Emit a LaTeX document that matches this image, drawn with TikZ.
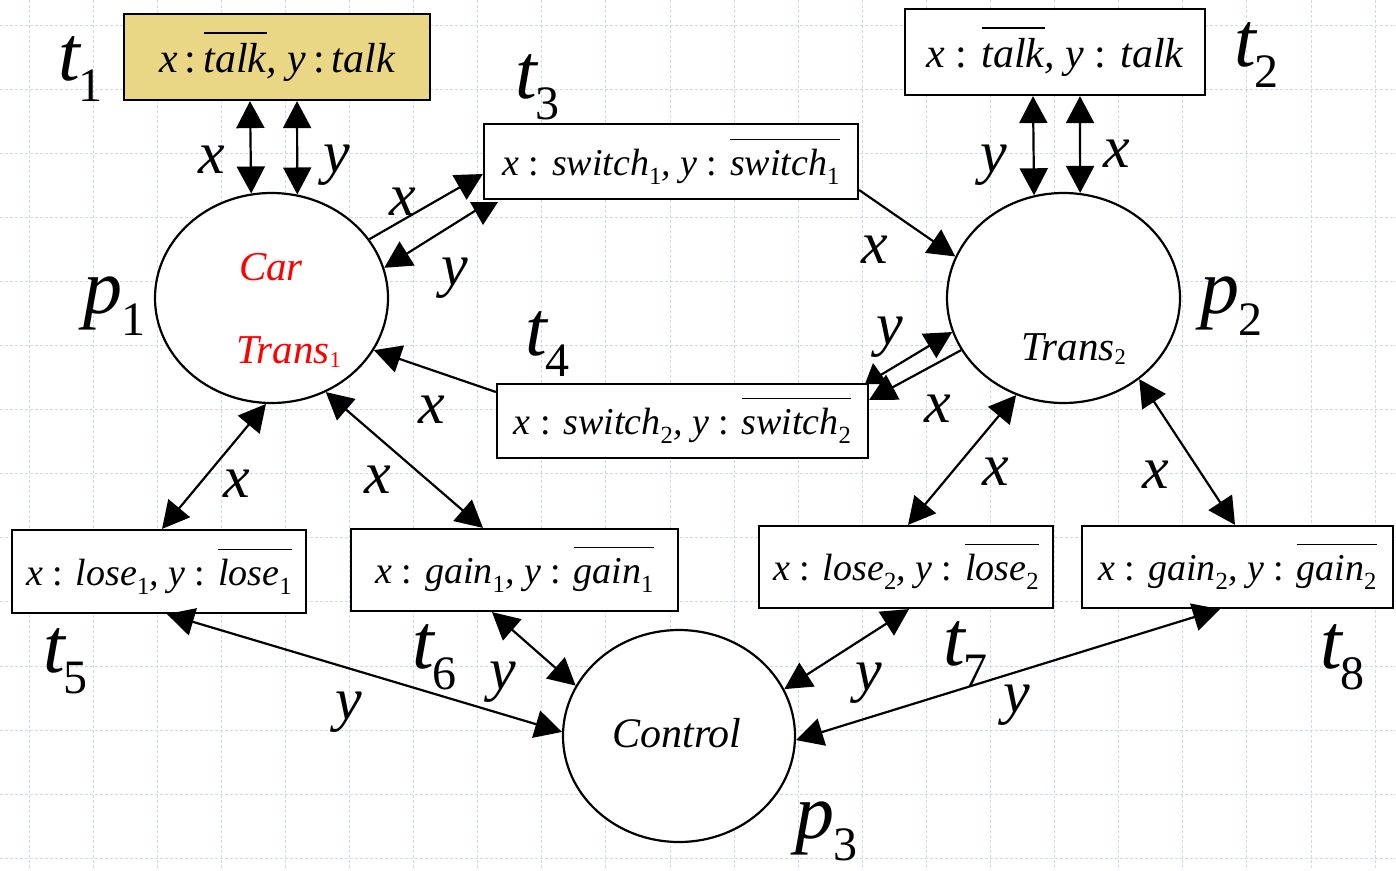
\documentclass[tikz,border=0pt]{standalone}
\usepackage{fontspec}
\setmainfont{Liberation Serif}
\usepackage{graphicx}
\usetikzlibrary{arrows.meta,shapes.geometric}
\definecolor{gridc}{RGB}{205,218,245}
\definecolor{khaki}{RGB}{234,215,133}
\newcommand\ovl[1]{\setbox0\hbox{#1}\rlap{\raisebox{0.93em}{\rule{\wd0}{0.035em}}}\box0}
\newcommand\bsub[1]{\raisebox{-0.24em}{\scalebox{0.65}{\upshape #1}}}
\newcommand\tsub[1]{\raisebox{-0.12em}{\scalebox{0.55}{\upshape #1}}}
\newcommand\cln{{\upshape:}}
\newcommand\lbl[2]{{\fontsize{78}{78}\selectfont\itshape #1}\kern-1pt\raisebox{-21pt}{\fontsize{48}{48}\selectfont #2}}
\newcommand\plbl[2]{{\fontsize{78}{78}\selectfont\itshape #1}\kern-1pt\raisebox{-22pt}{\fontsize{48}{48}\selectfont #2}}
\begin{document}
\begin{tikzpicture}[x=1pt,y=-1pt,
  gridl/.style={draw=gridc,line width=1pt,dash pattern=on 3pt off 2pt},
  place/.style={ellipse,draw,line width=2.2pt,fill=white,inner sep=0pt,minimum width=233pt,minimum height=210pt},
  trans/.style={rectangle,draw,line width=2.2pt,fill=white,inner sep=0pt,font=\fontsize{38}{40}\selectfont\itshape},
  arc/.style={line width=2.2pt,-{Triangle[length=27pt,width=28pt]}},
  dbl/.style={line width=2.2pt,{Triangle[length=27pt,width=28pt]}-{Triangle[length=27pt,width=28pt]}},
  alab/.style={font=\fontsize{60}{60}\selectfont\itshape,anchor=base,inner sep=0pt},
  tlab/.style={anchor=base west,inner sep=0pt},
  inlab/.style={anchor=base,inner sep=0pt,font=\fontsize{41}{41}\selectfont\itshape}]
\useasboundingbox (0,0) rectangle (1396,870);
\fill[white] (0,0) rectangle (1396,870);
\foreach \i in {0,...,21} \draw[gridl] ({29+64.1*\i},0) -- ({29+64.1*\i},870);
\foreach \j in {0,...,13} \draw[gridl] (0,{25+64.1*\j}) -- (1396,{25+64.1*\j});

% places
\node[place] (p1) at (271.5,298) {};
\node[place] (p2) at (1063.5,298) {};
\node[place,minimum width=232pt,minimum height=212pt] (p3) at (679,736) {};
\node[inlab,red] (car) at (271,280) {Car};
\node[inlab,red,anchor=base west] (tr1) at (236,363) {Trans\tsub{1}};
\node[inlab,anchor=base west] (tr2) at (1021,360) {Trans\tsub{2}};
\node[inlab,font=\fontsize{42}{42}\selectfont\itshape] (ctl) at (677,747) {Control};

% transitions
\node[trans,fill=khaki,minimum width=306pt,minimum height=86pt,font=\fontsize{42}{44}\selectfont\itshape] (t1) at (277,57)
  {x\,\cln\,\ovl{talk}, y\,\cln\,talk};
\node[trans,minimum width=300pt,minimum height=86pt,font=\fontsize{42}{44}\selectfont\itshape] (t2) at (1055,52)
  {x \cln{} \ovl{talk} , y \cln{} talk};
\node[trans,minimum width=374pt,minimum height=75pt] (t3) at (671,161.5)
  {x \cln{} switch\bsub{1}, y \cln{} \ovl{switch\bsub{1}}};
\node[trans,minimum width=371pt,minimum height=74pt] (t4) at (682.5,421)
  {x \cln{} switch\bsub{2}, y \cln{} \ovl{switch\bsub{2}}};
\node[trans,minimum width=294pt,minimum height=83pt] (t5) at (159,571.5)
  {x \cln{} lose\bsub{1}, y \cln{} \ovl{lose\bsub{1}}};
\node[trans,minimum width=327pt,minimum height=82pt] (t6) at (514.5,570)
  {x \cln{} gain\bsub{1}, y \cln{} \ovl{gain\bsub{1}}};
\node[trans,minimum width=294pt,minimum height=82pt] (t7) at (906,567)
  {x \cln{} lose\bsub{2}, y \cln{} \ovl{lose\bsub{2}}};
\node[trans,minimum width=311pt,minimum height=82pt] (t8) at (1237.5,567)
  {x \cln{} gain\bsub{2}, y \cln{} \ovl{gain\bsub{2}}};

% name labels
\node[tlab] (lt1) at (58,80) {\lbl{t}{1}};
\node[tlab] (lt2) at (1234,66) {\lbl{t}{2}};
\node[tlab] (lt3) at (515,98) {\lbl{t}{3}};
\node[tlab] (lt4) at (525,355) {\lbl{t}{4}};
\node[tlab] (lt5) at (43,672) {\lbl{t}{5}};
\node[tlab] (lt6) at (412,668) {\lbl{t}{6}};
\node[tlab] (lt7) at (943,665) {\lbl{t}{7}};
\node[tlab] (lt8) at (1320,668) {\lbl{t}{8}};
\node[tlab] (lp1) at (83,313) {\plbl{p}{1}};
\node[tlab] (lp2) at (1200,313) {\plbl{p}{2}};
\node[tlab] (lp3) at (795,838) {\plbl{p}{3}};

% connectors
\draw[dbl] ([xshift=-27pt]t1.south) -- (p1.101.8);
\draw[dbl] ([xshift=20pt]t1.south) -- (p1.76);
\draw[arc] (p1.31) -- ([yshift=-12.5pt]t3.west);
\coordinate (t3y) at (478,209);
\draw[arc] (t3y) -- (p1.15.1);
\fill (470,202) -- (498,202) -- (483,225) -- cycle;
\draw[arc] ([yshift=-28.5pt]t3.east) -- (p2.159.8);
\draw[dbl] ([xshift=-22pt]t2.south) -- (p2.106.8);
\draw[dbl] ([xshift=25pt]t2.south) -- (p2.81);
\draw[arc] ([yshift=29pt]t4.west) -- (p1.-27.4);
\coordinate (t4y) at (879,376);
\draw[arc] (t4y) -- (p2.197);
\fill (873,363) -- (865,384) -- (888,384) -- cycle;
\draw[arc] (p2.207.6) -- ([yshift=21pt]t4.east);
\draw[dbl] ([xshift=3pt]t5.north) -- (p1.-93.5);
\draw[dbl] ([xshift=-31.5pt]t6.north) -- (p1.-60.6);
\draw[dbl] ([xshift=2pt]t7.north) -- (p2.-116.6);
\draw[dbl] ([xshift=-2.5pt]t8.north) -- (p2.-47);
\draw[dbl] ([xshift=8pt]t5.south) -- (p3.178);
\draw[dbl] ([xshift=-22.5pt]t6.south) -- (p3.154.8);
\draw[dbl] ([xshift=3pt]t7.south) -- (p3.24.6);
\draw[dbl] ([xshift=-17.5pt]t8.south) -- (p3.-2);

% arc labels
\node[alab] (a1) at (212,173) {x};
\node[alab] (a2) at (337,172) {y};
\node[alab] (a3) at (403,215) {x};
\node[alab] (a4) at (455,285) {y};
\node[alab] (a5) at (875,263) {x};
\node[alab] (a6) at (994,172) {y};
\node[alab] (a7) at (1117,167) {x};
\node[alab] (a8) at (432,423) {x};
\node[alab] (a9) at (890,344) {y};
\node[alab] (a10) at (938,422) {x};
\node[alab] (a11) at (237,497) {x};
\node[alab] (a12) at (378,493) {x};
\node[alab] (a13) at (996,485) {x};
\node[alab] (a14) at (1156,488) {x};
\node[alab] (a15) at (349,719) {y};
\node[alab] (a16) at (503,689) {y};
\node[alab] (a17) at (869,690) {y};
\node[alab] (a18) at (1017,712) {y};
\end{tikzpicture}
\end{document}
